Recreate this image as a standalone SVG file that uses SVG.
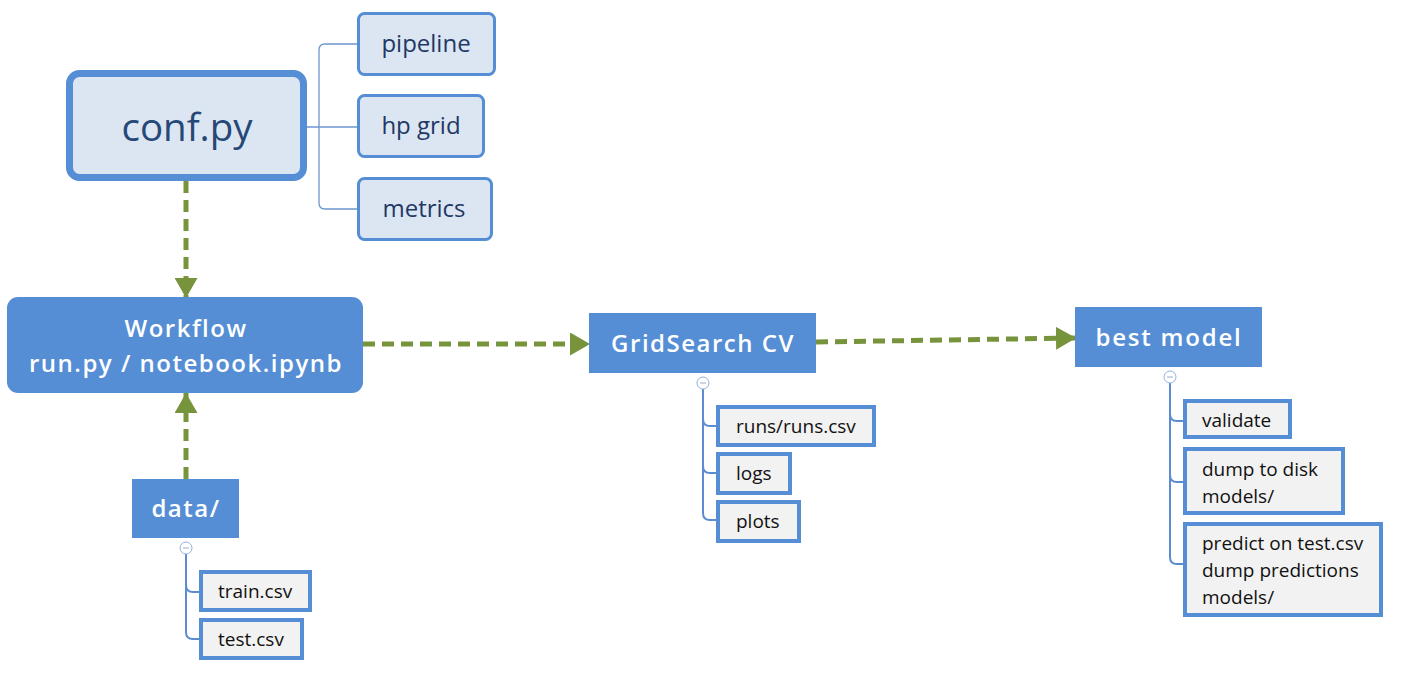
<svg xmlns="http://www.w3.org/2000/svg" width="1401" height="679" viewBox="0 0 1401 679">
<defs>
<style>
.flow{fill:none;stroke:#77933c;stroke-width:5;stroke-dasharray:12 7}
.tree{fill:none;stroke:#6f95cf;stroke-width:1.3}
.tree2{fill:none;stroke:#5b8bd0;stroke-width:2}
.conf{fill:#dce6f2;stroke:#558ed5;stroke-width:7}
.sub{fill:#dce6f2;stroke:#558ed5;stroke-width:3}
.main{fill:#558ed5}
.leaf{fill:#f2f2f2;stroke:#558ed5;stroke-width:4}
.t{font-family:"Open Sans","Noto Sans","DejaVu Sans",sans-serif}
.tsub{font-size:24px;fill:#1f3864}
.tmain{font-size:24px;font-weight:600;fill:#ffffff;letter-spacing:1.5px}
.tleaf{font-size:19px;fill:#111111}
.col{fill:#ffffff;stroke:#95b1dc;stroke-width:1}
.colm{stroke:#9aa9c4;stroke-width:1}
</style>
<marker id="ah" markerWidth="20" markerHeight="23" refX="20" refY="11.5" orient="auto" markerUnits="userSpaceOnUse">
<path d="M0,0 L20,11.5 L0,23 Z" fill="#77933c"/>
</marker>
</defs>
<rect width="1401" height="679" fill="#ffffff"/>

<g id="connectors">
<path class="tree" d="M307,127 H357"/>
<path class="tree" d="M357,44 H325 Q319,44 319,50 V203 Q319,209 325,209 H357"/>
<path class="flow" d="M186,181 V298" marker-end="url(#ah)"/>
<path class="flow" d="M186,479 V393" marker-end="url(#ah)"/>
<path class="flow" d="M363,344 H590" marker-end="url(#ah)"/>
<path class="flow" d="M816,342 L1076,338" marker-end="url(#ah)"/>
<path class="tree2" d="M186,554 V585 Q186,592 193,592 H200 M186,585 V632 Q186,639 193,639 H200"/>
<path class="tree2" d="M703,389 V419 Q703,426 710,426 H717 M703,419 V466 Q703,473 710,473 H717 M703,466 V513 Q703,520 710,520 H717"/>
<path class="tree2" d="M1170,383 V414 Q1170,421 1177,421 H1184 M1170,414 V475 Q1170,482 1177,482 H1184 M1170,475 V557 Q1170,564 1177,564 H1184"/>
</g>

<g id="conf">
<rect class="conf" x="69.5" y="73.5" width="234" height="104" rx="10"/>
<text class="t" x="187" y="141" text-anchor="middle" font-size="38.5" fill="#264878">conf.py</text>
</g>
<g id="pipeline">
<rect class="sub" x="358.5" y="13.5" width="136" height="61" rx="6"/>
<text class="t tsub" x="426" y="52" text-anchor="middle">pipeline</text>
</g>
<g id="hpgrid">
<rect class="sub" x="358.5" y="95.5" width="125" height="61" rx="6"/>
<text class="t tsub" x="421" y="134" text-anchor="middle">hp grid</text>
</g>
<g id="metrics">
<rect class="sub" x="358.5" y="178.5" width="133" height="61" rx="6"/>
<text class="t tsub" x="424" y="217" text-anchor="middle">metrics</text>
</g>

<g id="workflow">
<rect class="main" x="7" y="297" width="356" height="96" rx="11"/>
<text class="t tmain" x="186" y="337" text-anchor="middle">Workflow</text>
<text class="t tmain" x="186" y="372" text-anchor="middle">run.py / notebook.ipynb</text>
</g>

<g id="data">
<rect class="main" x="132" y="479" width="107" height="59"/>
<text class="t tmain" x="186" y="517" text-anchor="middle">data/</text>
<circle class="col" cx="186" cy="548" r="6"/>
<path class="colm" d="M183,548 H189"/>
</g>
<g id="train">
<rect class="leaf" x="201" y="572" width="109" height="38"/>
<text class="t tleaf" x="218" y="598">train.csv</text>
</g>
<g id="test">
<rect class="leaf" x="201" y="620" width="101" height="38"/>
<text class="t tleaf" x="218" y="646">test.csv</text>
</g>

<g id="gridsearch">
<rect class="main" x="589" y="313" width="227" height="60"/>
<text class="t tmain" x="703" y="352" text-anchor="middle" font-size="25">GridSearch CV</text>
<circle class="col" cx="703" cy="383" r="6"/>
<path class="colm" d="M700,383 H706"/>
</g>
<g id="runs">
<rect class="leaf" x="718" y="407" width="156" height="38"/>
<text class="t tleaf" x="736" y="433">runs/runs.csv</text>
</g>
<g id="logs">
<rect class="leaf" x="718" y="454" width="72" height="39"/>
<text class="t tleaf" x="736" y="480">logs</text>
</g>
<g id="plots">
<rect class="leaf" x="718" y="502" width="81" height="39"/>
<text class="t tleaf" x="736" y="528">plots</text>
</g>

<g id="bestmodel">
<rect class="main" x="1075" y="307" width="187" height="60"/>
<text class="t tmain" x="1169" y="346" text-anchor="middle" font-size="25" style="letter-spacing:1.8px">best model</text>
<circle class="col" cx="1170" cy="377" r="6"/>
<path class="colm" d="M1167,377 H1173"/>
</g>
<g id="validate">
<rect class="leaf" x="1185" y="401" width="105" height="36"/>
<text class="t tleaf" x="1202" y="427">validate</text>
</g>
<g id="dump">
<rect class="leaf" x="1185" y="449" width="158" height="64"/>
<text class="t tleaf" x="1202" y="476">dump to disk</text>
<text class="t tleaf" x="1202" y="503">models/</text>
</g>
<g id="predict">
<rect class="leaf" x="1185" y="524" width="196" height="91"/>
<text class="t tleaf" x="1202" y="550">predict on test.csv</text>
<text class="t tleaf" x="1202" y="577">dump predictions</text>
<text class="t tleaf" x="1202" y="604">models/</text>
</g>
</svg>
